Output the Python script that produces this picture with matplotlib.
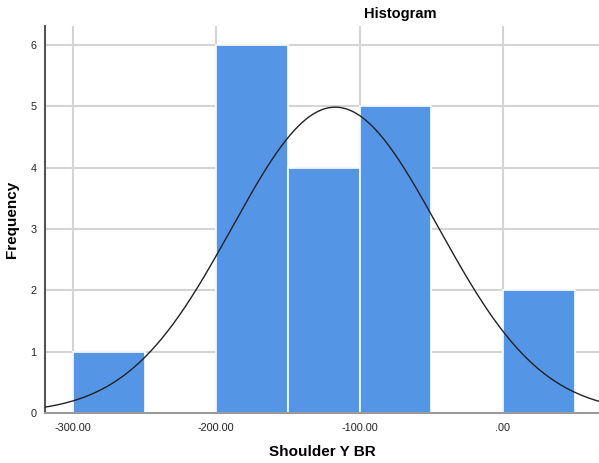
import numpy as np
import matplotlib.pyplot as plt

plt.rcParams['font.family'] = ['Liberation Sans', 'DejaVu Sans']

# histogram bins (left edges) and counts
bin_lefts = [-300, -250, -200, -150, -100, -50, 0]
counts = [1, 0, 6, 4, 5, 0, 2]
bin_width = 50
n_total = 18
curve_mean = -117.0
curve_sd = 72.0

x_ticks = [-300, -200, -100, 0]
x_ticklabels = ["-300.00", "-200.00", "-100.00", ".00"]
y_ticks = [0, 1, 2, 3, 4, 5, 6]

fig = plt.figure(figsize=(5.99, 4.63), dpi=100)
ax = fig.add_axes([45 / 599, 50 / 463, 554 / 599, 387 / 463])

ax.grid(True, color="#d4d4d4", linewidth=1.5, zorder=0)
ax.set_axisbelow(True)

ax.bar(bin_lefts, counts, width=bin_width, align="edge", color="#5595e5",
       edgecolor="white", linewidth=1.2, zorder=2)

xs = np.linspace(-320, 70, 400)
ys = n_total * bin_width / (curve_sd * np.sqrt(2 * np.pi)) * np.exp(-0.5 * ((xs - curve_mean) / curve_sd) ** 2)
ax.plot(xs, ys, color="#222222", linewidth=1.0, zorder=3)

ax.set_xlim(-319.5, 67)
ax.set_ylim(0, 6.31)
ax.set_xticks(x_ticks)
ax.set_xticklabels(x_ticklabels)
ax.set_yticks(y_ticks)
ax.tick_params(length=0, labelsize=7.8, colors="#222222")
ax.tick_params(axis="x", pad=7)
ax.tick_params(axis="y", pad=6)

for side in ["top", "right"]:
    ax.spines[side].set_visible(False)
ax.spines["left"].set_color("#555555")
ax.spines["left"].set_linewidth(1.5)
ax.spines["bottom"].set_color("#9a9a9a")
ax.spines["bottom"].set_linewidth(1.5)

ax.set_xlabel("Shoulder Y BR", fontsize=11, fontweight="bold", labelpad=9)
ax.set_ylabel("Frequency", fontsize=11, fontweight="bold", labelpad=8)
fig.text(400 / 599, 1 - 14 / 463, "Histogram", fontsize=10.5, fontweight="bold",
         ha="center", va="center")

plt.savefig("out.png", dpi=100)
